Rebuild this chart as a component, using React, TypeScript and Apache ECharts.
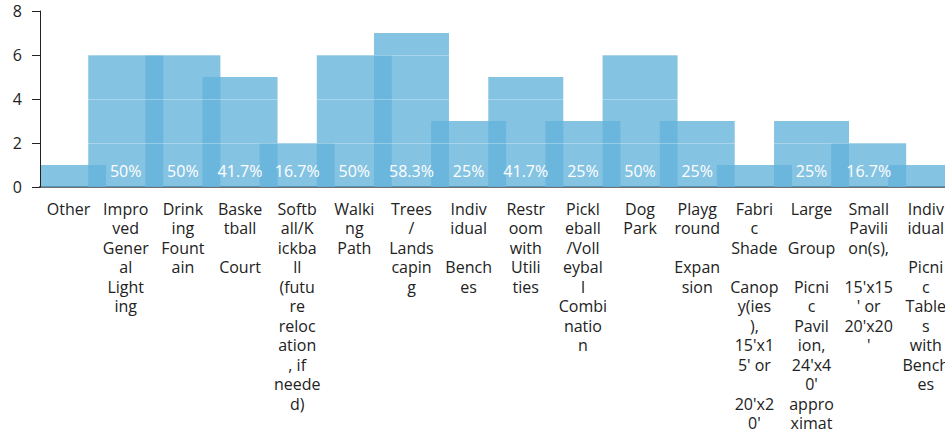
import React, { useEffect, useRef } from "react";
import * as echarts from "echarts";

const categories: string[] = [
  "Other",
  "Impro\nved\nGener\nal\nLight\ning",
  "Drink\ning\nFount\nain",
  "Baske\ntball\n\nCourt",
  "Softb\nall/K\nickba\nll\n(futu\nre\nreloc\nation\n, if\nneede\nd)",
  "Walki\nng\nPath",
  "Trees\n/\nLands\ncapin\ng",
  "Indiv\nidual\n\nBench\nes",
  "Restr\noom\nwith\nUtili\nties",
  "Pickl\neball\n/Voll\neybal\nl\nCombi\nnatio\nn",
  "Dog\nPark",
  "Playg\nround\n\nExpan\nsion",
  "Fabri\nc\nShade\n\nCanop\ny(ies\n),\n15'x1\n5' or\n\n20'x2\n0'",
  "Large\n\nGroup\n\nPicni\nc\nPavil\nion,\n24'x4\n0'\nappro\nximat\nely",
  "Small\nPavili\non(s),\n\n15'x15\n' or\n20'x20\n'",
  "Indiv\nidual\n\nPicni\nc\nTable\ns\nwith\nBench\nes",
];

const counts: number[] = [1, 6, 6, 5, 2, 6, 7, 3, 5, 3, 6, 3, 1, 3, 2, 1];
const respondents = 12;
const yTicks: number[] = [0, 2, 4, 6, 8];

const FONT = "'Open Sans', sans-serif";

export default function App() {
  const ref = useRef<HTMLDivElement>(null);
  useEffect(() => {
    if (!ref.current) return;
    const chart = echarts.init(ref.current, undefined, { renderer: "svg" });
    chart.setOption({
      animation: false,
      grid: { left: 40, top: 11, right: 15.6, height: 176, containLabel: false },
      xAxis: {
        type: "category",
        data: categories,
        axisLine: { show: true, lineStyle: { color: "#333", width: 2 } },
        axisTick: { show: false },
        axisLabel: {
          interval: 0,
          margin: 12,
          color: "#222",
          fontFamily: FONT,
          fontSize: 16,
          lineHeight: 19.5,
          align: "center",
        },
      },
      yAxis: {
        type: "value",
        min: yTicks[0],
        max: yTicks[yTicks.length - 1],
        interval: 2,
        z: 5,
        axisLine: { show: true, lineStyle: { color: "#222", width: 1 } },
        axisTick: { show: true, length: 8, lineStyle: { color: "#222" } },
        axisLabel: { margin: 18, color: "#222", fontFamily: FONT, fontSize: 16 },
        splitLine: { show: true, lineStyle: { color: "rgba(255,255,255,0.3)", width: 1 } },
      },
      series: [
        {
          type: "bar",
          data: counts,
          barWidth: 75,
          clip: true,
          itemStyle: { color: "rgba(99,178,219,0.78)" },
          label: {
            show: true,
            position: "insideBottom",
            distance: 8,
            color: "#ffffff",
            fontFamily: FONT,
            fontSize: 16,
            formatter: (p: any) => {
              const v = p.value as number;
              if (v <= 1) return "";
              const pct = Math.round((v / respondents) * 1000) / 10;
              return `${pct}%`;
            },
          },
        },
      ],
    });
    return () => chart.dispose();
  }, []);
  return (
    <div
      style={{
        position: "fixed",
        left: 0,
        top: 0,
        width: 945,
        height: 434,
        overflow: "hidden",
        background: "#fff",
      }}
    >
      <div ref={ref} style={{ position: "absolute", left: 0, top: 0, width: 970, height: 520 }} />
    </div>
  );
}
